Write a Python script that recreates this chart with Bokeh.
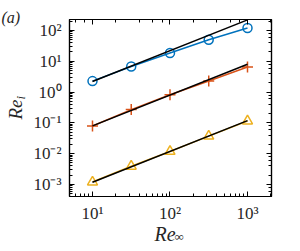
import numpy as np
from bokeh.plotting import figure
from bokeh.models import LogAxis, CustomJSTickFormatter, Range1d, Title
from bokeh.embed import file_html
from bokeh.resources import INLINE

re_inf = [10, 31.6, 100, 316, 1000]
blue_vals = [2.27, 6.8, 18.5, 50, 120]
orange_vals = [0.079, 0.27, 0.82, 2.3, 6.5]
yellow_vals = [0.0012, 0.0039, 0.0118, 0.037, 0.115]
fit_coef = [0.22, 0.008, 0.000118]
x_ticks = [10, 100, 1000]
x_tick_labels = ["10¹", "10²", "10³"]
y_ticks = [1e-3, 1e-2, 1e-1, 1, 10, 100]
y_tick_labels = ["10⁻³", "10⁻²", "10⁻¹", "10⁰", "10¹", "10²"]

BLUE = "#0072BD"
ORANGE = "#D95319"
YELLOW = "#EDB120"
FONT = "Liberation Serif"
INK = "#262626"

p = figure(width=292, height=243, x_axis_type="log", y_axis_type="log",
           output_backend="svg", toolbar_location=None,
           x_range=Range1d(5.05, 2040), y_range=Range1d(4.07e-4, 227),
           min_border_left=69, min_border_right=21, min_border_top=19, min_border_bottom=46)
p.background_fill_color = "white"
p.border_fill_color = "white"
p.grid.visible = False
p.outline_line_color = "black"
p.outline_line_width = 1.2

for ax in [p.xaxis[0], p.yaxis[0]]:
    ax.major_tick_in = 5
    ax.major_tick_out = 0
    ax.minor_tick_in = 3
    ax.minor_tick_out = 0
    ax.axis_line_width = 1.2
    ax.major_label_text_font = FONT
    ax.major_label_text_font_size = "17px"
    ax.major_label_text_color = INK
p.xaxis[0].major_label_standoff = 7
p.yaxis[0].major_label_standoff = 8

p.xaxis[0].ticker.desired_num_ticks = 3
p.xaxis[0].major_label_overrides = {t: l for t, l in zip(x_ticks, x_tick_labels)}
p.yaxis[0].major_label_overrides = {t: l for t, l in zip(y_ticks, y_tick_labels)}

blank = CustomJSTickFormatter(code="return ''")
for loc in ["above", "right"]:
    ax = LogAxis(formatter=blank, major_tick_in=5, major_tick_out=0, minor_tick_in=3,
                 minor_tick_out=0, axis_line_width=1.2, major_label_text_font_size="1px",
                 major_label_standoff=0)
    p.add_layout(ax, loc)

fit_x = [re_inf[0], re_inf[-1]]

p.line(re_inf, blue_vals, color=BLUE, line_width=1.5)
p.scatter(re_inf, blue_vals, marker="circle", size=9, fill_color=None, line_color=BLUE, line_width=1.5)
p.line(re_inf, orange_vals, color=ORANGE, line_width=1.5)
p.scatter(re_inf, orange_vals, marker="cross", size=11, line_color=ORANGE, line_width=1.5)
p.line(re_inf, yellow_vals, color=YELLOW, line_width=1.5)
p.scatter(re_inf, yellow_vals, marker="triangle", size=10, fill_color=None, line_color=YELLOW, line_width=1.5)

for c in fit_coef:
    p.line(fit_x, [c * fit_x[0], c * fit_x[1]], color="black", line_width=1.5)

# panel label
p.add_layout(Title(text="(a)", align="left", offset=-68, standoff=-12, text_font=FONT,
                   text_font_style="italic", text_font_size="16px", text_color=INK), "above")
# x label: Re with subscript infinity
p.add_layout(Title(text="Re", align="left", offset=85, standoff=-6, vertical_align="top",
                   text_font=FONT, text_font_style="italic", text_font_size="20px",
                   text_color=INK), "below")
p.add_layout(Title(text="∞", align="left", offset=105, standoff=-29, vertical_align="top",
                   text_font=FONT, text_font_style="normal", text_font_size="13px",
                   text_color=INK), "below")
# y label: Re with subscript i
p.add_layout(Title(text="Re", align="left", offset=77, standoff=6, vertical_align="top",
                   text_font=FONT, text_font_style="italic", text_font_size="19px",
                   text_color=INK), "left")
p.add_layout(Title(text="i", align="left", offset=97, standoff=-52, vertical_align="bottom",
                   text_font=FONT, text_font_style="italic", text_font_size="13px",
                   text_color=INK), "left")

open("out.html", "w").write(file_html(p, INLINE))
